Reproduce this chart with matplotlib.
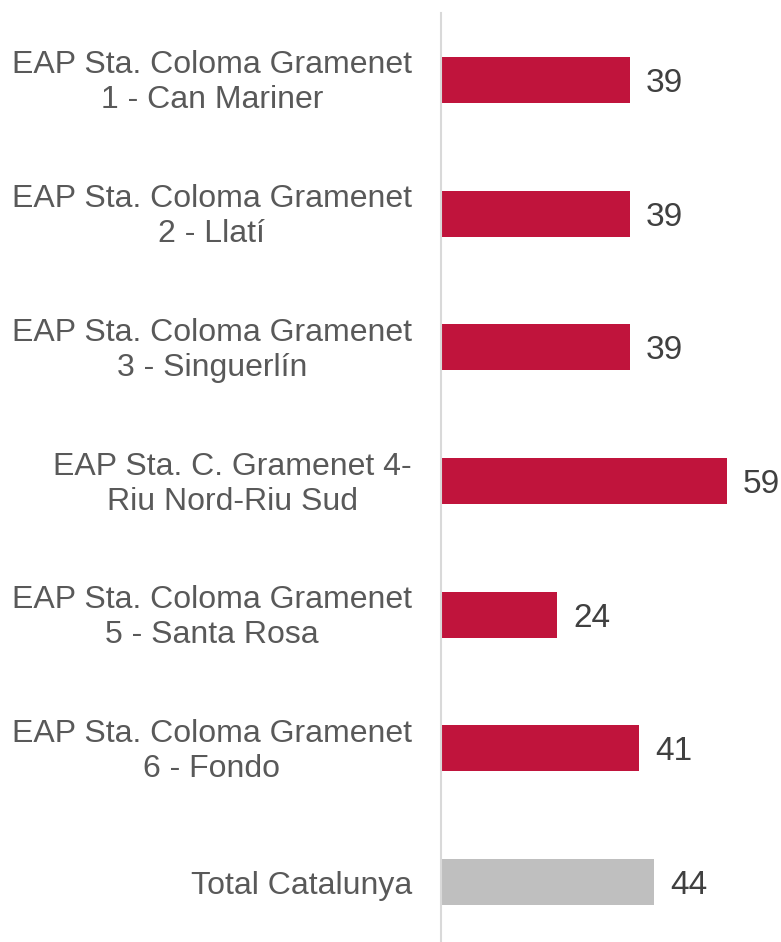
import matplotlib.pyplot as plt
import matplotlib.transforms as mtransforms

labels = ['EAP Sta. Coloma Gramenet\n1 - Can Mariner',
          'EAP Sta. Coloma Gramenet\n2 - Llatí',
          'EAP Sta. Coloma Gramenet\n3 - Singuerlín',
          'EAP Sta. C. Gramenet 4-\nRiu Nord-Riu Sud',
          'EAP Sta. Coloma Gramenet\n5 - Santa Rosa',
          'EAP Sta. Coloma Gramenet\n6 - Fondo',
          'Total Catalunya']
values = [39, 39, 39, 59, 24, 41, 44]
colors = ['#C0143C'] * 6 + ['#BFBFBF']

plt.rcParams['font.family'] = ['Liberation Sans', 'DejaVu Sans']

fig = plt.figure(figsize=(7.81, 9.42), dpi=100)
# axes from y=13px to y=949px (bottom runs past the figure edge)
ax = fig.add_axes([441 / 781, 1 - 949 / 942, 340 / 781, 936 / 942])

y = list(range(len(values)))
ax.barh(y, values, height=0.345, color=colors)
ax.set_ylim(len(values) - 0.5, -0.5)
ax.set_xlim(0, 340 / 4.84)

down = mtransforms.ScaledTranslation(0, -0.035, fig.dpi_scale_trans)
for yi, v in zip(y, values):
    ax.text(v + 3.3, yi, str(v), va='center', ha='left', fontsize=24, color='#404040',
            transform=ax.transData + down)

ax.set_yticks(y)
ax.set_yticklabels(labels, fontsize=23, color='#595959', linespacing=1.22,
                   ha='right', multialignment='center')
ax.tick_params(axis='y', length=0, pad=21)
up = mtransforms.ScaledTranslation(0, 0.03, fig.dpi_scale_trans)
for lab in ax.get_yticklabels():
    if '\n' in lab.get_text():
        lab.set_transform(lab.get_transform() + up)
ax.set_xticks([])
for s in ['top', 'right', 'bottom']:
    ax.spines[s].set_visible(False)
ax.spines['left'].set_color('#D9D9D9')
ax.spines['left'].set_linewidth(1.5)

fig.savefig('out.png', dpi=100)
